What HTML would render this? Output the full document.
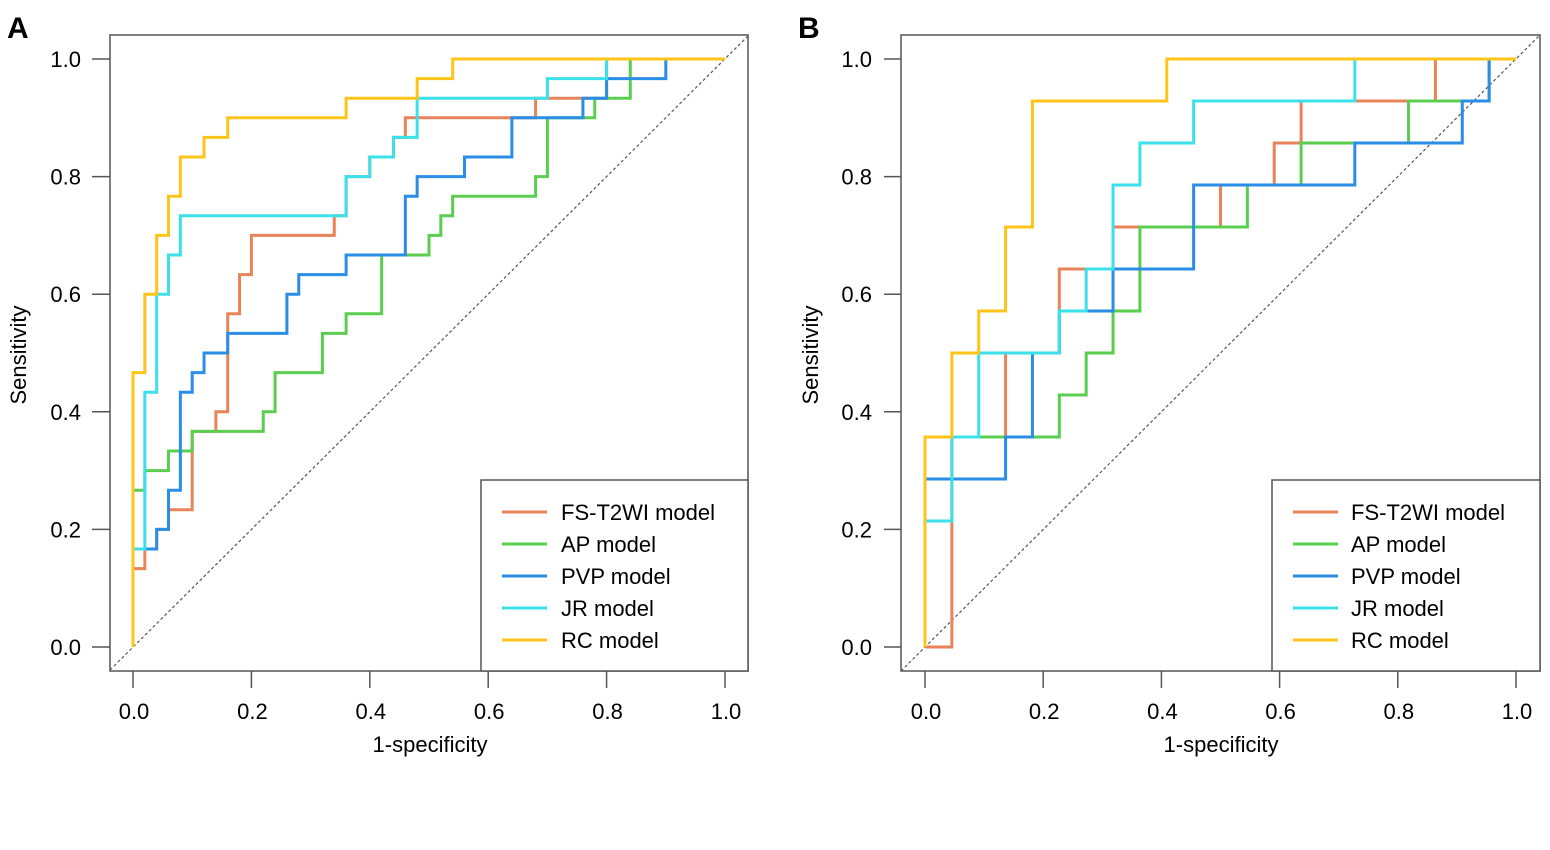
<!DOCTYPE html>
<html>
<head>
<meta charset="utf-8">
<style>
  html,body{margin:0;padding:0;background:#fff;}
  svg{display:block;}
  text{font-family:"Liberation Sans","DejaVu Sans",sans-serif;fill:#000;}
</style>
</head>
<body>
<svg width="1550" height="850" viewBox="0 0 1550 850" xmlns="http://www.w3.org/2000/svg">
  <rect x="0" y="0" width="1550" height="850" fill="#fff"/>

  <!-- ================= PANEL A ================= -->
  <text x="7" y="38" font-size="30" font-weight="bold">A</text>

  <!-- diagonal -->
  <line x1="110" y1="670" x2="748" y2="36" stroke="#555" stroke-width="1.2" stroke-dasharray="3,2.5"/>

  <!-- curves -->
  <g transform="translate(133,647) scale(11.84,-19.6)" fill="none" stroke-width="3" stroke-linejoin="miter">
    <polyline vector-effect="non-scaling-stroke" stroke="#E8835A"
      points="0,0 0,4 1,4 1,5 2,5 2,6 3,6 3,7 5,7 5,11 7,11 7,12 8,12 8,17 9,17 9,19 10,19 10,21 17,21 17,22 18,22 18,24 20,24 20,25 22,25 22,26 23,26 23,27 34,27 34,28 40,28 40,30 50,30"/>
    <polyline vector-effect="non-scaling-stroke" stroke="#59CE4F"
      points="0,0 0,8 1,8 1,9 3,9 3,10 5,10 5,11 11,11 11,12 12,12 12,14 16,14 16,16 18,16 18,17 21,17 21,20 25,20 25,21 26,21 26,22 27,22 27,23 34,23 34,24 35,24 35,27 39,27 39,28 42,28 42,30 50,30"/>
    <polyline vector-effect="non-scaling-stroke" stroke="#2A8DE6"
      points="0,0 0,5 2,5 2,6 3,6 3,8 4,8 4,13 5,13 5,14 6,14 6,15 8,15 8,16 13,16 13,18 14,18 14,19 18,19 18,20 23,20 23,23 24,23 24,24 28,24 28,25 32,25 32,27 38,27 38,28 40,28 40,29 45,29 45,30 50,30"/>
    <polyline vector-effect="non-scaling-stroke" stroke="#3BE1EA"
      points="0,0 0,5 1,5 1,13 2,13 2,18 3,18 3,20 4,20 4,22 18,22 18,24 20,24 20,25 22,25 22,26 24,26 24,28 35,28 35,29 40,29 40,30 50,30"/>
    <polyline vector-effect="non-scaling-stroke" stroke="#FFC41A"
      points="0,0 0,14 1,14 1,18 2,18 2,21 3,21 3,23 4,23 4,25 6,25 6,26 8,26 8,27 18,27 18,28 24,28 24,29 27,29 27,30 50,30"/>
  </g>

  <!-- box -->
  <rect x="110" y="35" width="638" height="636" fill="none" stroke="#555" stroke-width="1.5"/>

  <!-- y ticks A -->
  <g stroke="#555" stroke-width="1.5">
    <line x1="92" y1="647" x2="110" y2="647"/>
    <line x1="92" y1="529.4" x2="110" y2="529.4"/>
    <line x1="92" y1="411.8" x2="110" y2="411.8"/>
    <line x1="92" y1="294.2" x2="110" y2="294.2"/>
    <line x1="92" y1="176.6" x2="110" y2="176.6"/>
    <line x1="92" y1="59" x2="110" y2="59"/>
  </g>
  <g font-size="22" text-anchor="end">
    <text x="81" y="655">0.0</text>
    <text x="81" y="537.4">0.2</text>
    <text x="81" y="419.8">0.4</text>
    <text x="81" y="302.2">0.6</text>
    <text x="81" y="184.6">0.8</text>
    <text x="81" y="67">1.0</text>
  </g>
  <!-- x ticks A -->
  <g stroke="#555" stroke-width="1.5">
    <line x1="133" y1="671" x2="133" y2="688"/>
    <line x1="251.4" y1="671" x2="251.4" y2="688"/>
    <line x1="369.8" y1="671" x2="369.8" y2="688"/>
    <line x1="488.2" y1="671" x2="488.2" y2="688"/>
    <line x1="606.6" y1="671" x2="606.6" y2="688"/>
    <line x1="725" y1="671" x2="725" y2="688"/>
  </g>
  <g font-size="22" text-anchor="middle">
    <text x="134" y="719">0.0</text>
    <text x="252.4" y="719">0.2</text>
    <text x="370.8" y="719">0.4</text>
    <text x="489.2" y="719">0.6</text>
    <text x="607.6" y="719">0.8</text>
    <text x="726" y="719">1.0</text>
  </g>
  <text x="430" y="752" font-size="22" text-anchor="middle">1-specificity</text>
  <text transform="translate(26,355) rotate(-90)" font-size="22" text-anchor="middle">Sensitivity</text>

  <!-- legend A -->
  <rect x="481" y="480" width="267" height="191" fill="#fff" stroke="#555" stroke-width="1.5"/>
  <g stroke-width="3">
    <line x1="502" y1="512" x2="547" y2="512" stroke="#E8835A"/>
    <line x1="502" y1="544" x2="547" y2="544" stroke="#59CE4F"/>
    <line x1="502" y1="576" x2="547" y2="576" stroke="#2A8DE6"/>
    <line x1="502" y1="608" x2="547" y2="608" stroke="#3BE1EA"/>
    <line x1="502" y1="640" x2="547" y2="640" stroke="#FFC41A"/>
  </g>
  <g font-size="22">
    <text x="561" y="520">FS-T2WI model</text>
    <text x="561" y="552">AP model</text>
    <text x="561" y="584">PVP model</text>
    <text x="561" y="616">JR model</text>
    <text x="561" y="648">RC model</text>
  </g>

  <!-- ================= PANEL B ================= -->
  <text x="798" y="38" font-size="30" font-weight="bold">B</text>

  <line x1="901" y1="671" x2="1540" y2="35" stroke="#555" stroke-width="1.2" stroke-dasharray="3,2.5"/>

  <g transform="translate(925,647) scale(26.864,-42)" fill="none" stroke-width="3" stroke-linejoin="miter">
    <polyline vector-effect="non-scaling-stroke" stroke="#E8835A"
      points="0,0 1,0 1,3 1,5 3,5 3,7 5,7 5,9 7,9 7,10 11,10 11,11 13,11 13,12 14,12 14,13 19,13 19,14 22,14"/>
    <polyline vector-effect="non-scaling-stroke" stroke="#59CE4F"
      points="0,0 0,5 5,5 5,6 6,6 6,7 7,7 7,8 8,8 8,10 12,10 12,11 14,11 14,12 18,12 18,13 21,13 21,14 22,14"/>
    <polyline vector-effect="non-scaling-stroke" stroke="#2A8DE6"
      points="0,0 0,4 3,4 3,5 4,5 4,7 5,7 5,8 7,8 7,9 10,9 10,11 16,11 16,12 20,12 20,13 21,13 21,14 22,14"/>
    <polyline vector-effect="non-scaling-stroke" stroke="#3BE1EA"
      points="0,0 0,3 1,3 1,5 2,5 2,7 5,7 5,8 6,8 6,9 7,9 7,11 8,11 8,12 10,12 10,13 16,13 16,14 22,14"/>
    <polyline vector-effect="non-scaling-stroke" stroke="#FFC41A"
      points="0,0 0,5 1,5 1,7 2,7 2,8 3,8 3,10 4,10 4,13 9,13 9,14 22,14"/>
  </g>

  <rect x="901" y="35" width="639" height="636" fill="none" stroke="#555" stroke-width="1.5"/>

  <g stroke="#555" stroke-width="1.5">
    <line x1="884" y1="647" x2="901" y2="647"/>
    <line x1="884" y1="529.4" x2="901" y2="529.4"/>
    <line x1="884" y1="411.8" x2="901" y2="411.8"/>
    <line x1="884" y1="294.2" x2="901" y2="294.2"/>
    <line x1="884" y1="176.6" x2="901" y2="176.6"/>
    <line x1="884" y1="59" x2="901" y2="59"/>
  </g>
  <g font-size="22" text-anchor="end">
    <text x="872" y="655">0.0</text>
    <text x="872" y="537.4">0.2</text>
    <text x="872" y="419.8">0.4</text>
    <text x="872" y="302.2">0.6</text>
    <text x="872" y="184.6">0.8</text>
    <text x="872" y="67">1.0</text>
  </g>
  <g stroke="#555" stroke-width="1.5">
    <line x1="925" y1="671" x2="925" y2="688"/>
    <line x1="1043.2" y1="671" x2="1043.2" y2="688"/>
    <line x1="1161.4" y1="671" x2="1161.4" y2="688"/>
    <line x1="1279.6" y1="671" x2="1279.6" y2="688"/>
    <line x1="1397.8" y1="671" x2="1397.8" y2="688"/>
    <line x1="1516" y1="671" x2="1516" y2="688"/>
  </g>
  <g font-size="22" text-anchor="middle">
    <text x="926" y="719">0.0</text>
    <text x="1044.2" y="719">0.2</text>
    <text x="1162.4" y="719">0.4</text>
    <text x="1280.6" y="719">0.6</text>
    <text x="1398.8" y="719">0.8</text>
    <text x="1517" y="719">1.0</text>
  </g>
  <text x="1221" y="752" font-size="22" text-anchor="middle">1-specificity</text>
  <text transform="translate(818,355) rotate(-90)" font-size="22" text-anchor="middle">Sensitivity</text>

  <rect x="1272" y="480" width="268" height="191" fill="#fff" stroke="#555" stroke-width="1.5"/>
  <g stroke-width="3">
    <line x1="1293" y1="512" x2="1338" y2="512" stroke="#E8835A"/>
    <line x1="1293" y1="544" x2="1338" y2="544" stroke="#59CE4F"/>
    <line x1="1293" y1="576" x2="1338" y2="576" stroke="#2A8DE6"/>
    <line x1="1293" y1="608" x2="1338" y2="608" stroke="#3BE1EA"/>
    <line x1="1293" y1="640" x2="1338" y2="640" stroke="#FFC41A"/>
  </g>
  <g font-size="22">
    <text x="1351" y="520">FS-T2WI model</text>
    <text x="1351" y="552">AP model</text>
    <text x="1351" y="584">PVP model</text>
    <text x="1351" y="616">JR model</text>
    <text x="1351" y="648">RC model</text>
  </g>
</svg>
</body>
</html>
